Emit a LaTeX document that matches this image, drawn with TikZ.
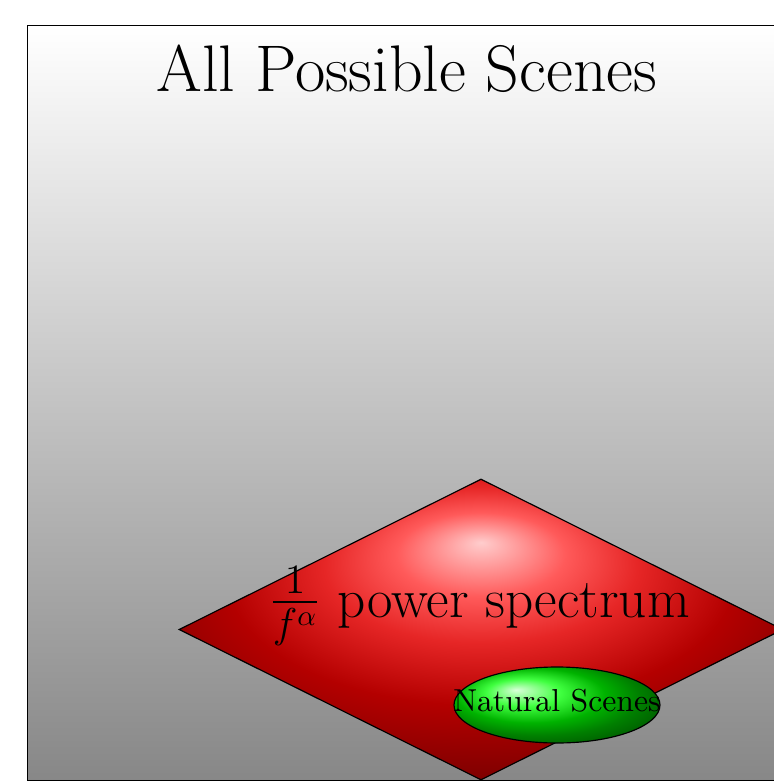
\documentclass[tikz,border=0pt]{standalone}
\usepackage{tikz}
\usetikzlibrary{shapes.geometric}

% radial shading for the power-spectrum plane, highlight above the centre
\pgfdeclareradialshading{planeglow}{\pgfpoint{0bp}{14.5bp}}{%
  color(0bp)=(rgb,255:red,255;green,205;blue,205);
  color(7bp)=(rgb,255:red,255;green,90;blue,90);
  color(13bp)=(rgb,255:red,230;green,38;blue,38);
  color(21bp)=(rgb,255:red,180;green,0;blue,0);
  color(30bp)=(rgb,255:red,130;green,0;blue,0);
  color(40bp)=(rgb,255:red,102;green,0;blue,0);
  color(50bp)=(rgb,255:red,85;green,0;blue,0)}

\tikzset{
  universe/.style={draw=black, line width=0.4pt, top color=white, bottom color=black!47,
    minimum width=760*0.345pt, minimum height=755*0.345pt, inner sep=0pt, anchor=north west},
  plane/.style={diamond, draw=black, line width=0.4pt, shading=planeglow,
    minimum width=604*0.345pt, minimum height=301*0.345pt, inner sep=0pt, aspect=2},
  blob/.style={ellipse, draw=black, line width=0.4pt, shading=ball, ball color=green,
    minimum width=206*0.345pt, minimum height=76*0.345pt, inner sep=0pt},
  label/.style={inner sep=0pt, anchor=base, text=black}
}

\begin{document}
\begin{tikzpicture}[x=0.345pt, y=-0.345pt]
  \useasboundingbox (0,0) rectangle (774,783);
  \clip (0,0) rectangle (774,783);

  % the set of all scenes
  \node[universe] (all) at (27,25) {};
  \node[label, font=\fontsize{22.75}{27}\selectfont] (alltitle) at (407,91) {All Possible Scenes};

  % scenes with a 1/f^alpha spectrum
  \node[plane] (spec) at (481,629.5) {};
  \node[label, font=\fontsize{19.06}{23}\selectfont] (spectitle) at (479.5,617)
    {$\frac{1}{f^{\alpha}}$ power spectrum};

  % natural scenes
  \node[blob] (nat) at (557,705) {};
  \node[label, font=\fontsize{10.95}{13}\selectfont] (nattitle) at (557,711) {Natural Scenes};
\end{tikzpicture}
\end{document}
